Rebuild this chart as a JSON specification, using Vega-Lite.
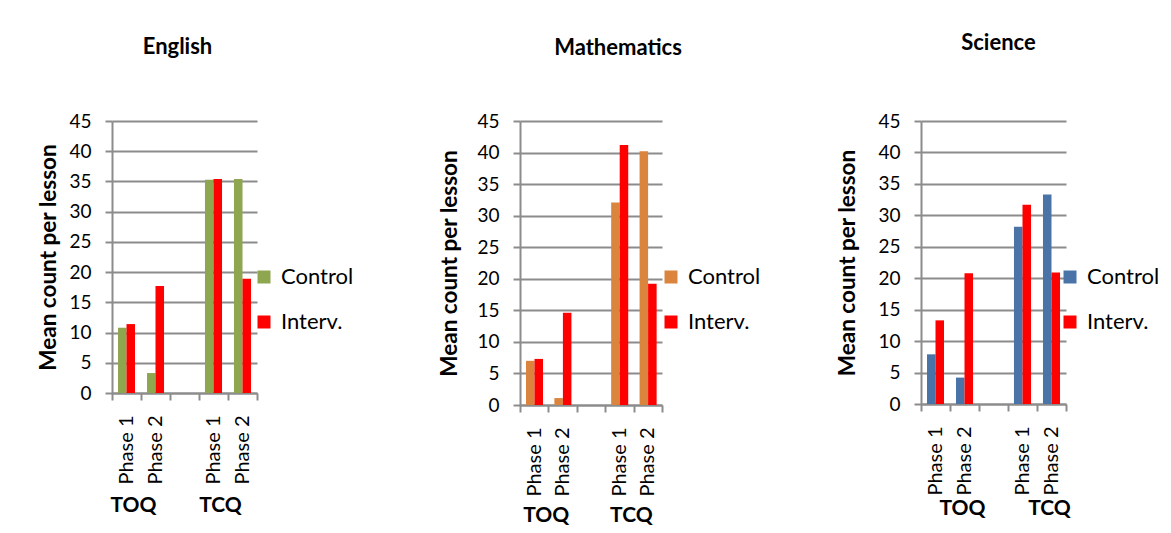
{
  "$schema": "https://vega.github.io/schema/vega-lite/v6.json",
  "padding": {"left": 37, "top": 32, "right": 0, "bottom": 0},
  "background": "white",
  "datasets": {
    "counts": [
      {"subject": "English", "slot": "TOQ Phase 1", "series": "Control", "value": 10.8},
      {"subject": "English", "slot": "TOQ Phase 1", "series": "Interv.", "value": 11.4},
      {"subject": "English", "slot": "TOQ Phase 2", "series": "Control", "value": 3.3},
      {"subject": "English", "slot": "TOQ Phase 2", "series": "Interv.", "value": 17.7},
      {"subject": "English", "slot": "TCQ Phase 1", "series": "Control", "value": 35.3},
      {"subject": "English", "slot": "TCQ Phase 1", "series": "Interv.", "value": 35.4},
      {"subject": "English", "slot": "TCQ Phase 2", "series": "Control", "value": 35.4},
      {"subject": "English", "slot": "TCQ Phase 2", "series": "Interv.", "value": 18.9},
      {"subject": "Mathematics", "slot": "TOQ Phase 1", "series": "Control", "value": 7.0},
      {"subject": "Mathematics", "slot": "TOQ Phase 1", "series": "Interv.", "value": 7.3},
      {"subject": "Mathematics", "slot": "TOQ Phase 2", "series": "Control", "value": 1.1},
      {"subject": "Mathematics", "slot": "TOQ Phase 2", "series": "Interv.", "value": 14.6},
      {"subject": "Mathematics", "slot": "TCQ Phase 1", "series": "Control", "value": 32.1},
      {"subject": "Mathematics", "slot": "TCQ Phase 1", "series": "Interv.", "value": 41.2},
      {"subject": "Mathematics", "slot": "TCQ Phase 2", "series": "Control", "value": 40.2},
      {"subject": "Mathematics", "slot": "TCQ Phase 2", "series": "Interv.", "value": 19.2},
      {"subject": "Science", "slot": "TOQ Phase 1", "series": "Control", "value": 7.9},
      {"subject": "Science", "slot": "TOQ Phase 1", "series": "Interv.", "value": 13.3},
      {"subject": "Science", "slot": "TOQ Phase 2", "series": "Control", "value": 4.2},
      {"subject": "Science", "slot": "TOQ Phase 2", "series": "Interv.", "value": 20.8},
      {"subject": "Science", "slot": "TCQ Phase 1", "series": "Control", "value": 28.2},
      {"subject": "Science", "slot": "TCQ Phase 1", "series": "Interv.", "value": 31.7},
      {"subject": "Science", "slot": "TCQ Phase 2", "series": "Control", "value": 33.3},
      {"subject": "Science", "slot": "TCQ Phase 2", "series": "Interv.", "value": 20.9}
    ]
  },
  "spacing": 75,
  "hconcat": [
    {
      "title": {"text": "English", "offset": 53, "dx": -7},
      "width": 145,
      "height": 272,
      "data": {"name": "counts"},
      "transform": [{"filter": "datum.subject == 'English'"}],
      "encoding": {
        "xOffset": {"field": "series", "scale": {"domain": ["Control", "Interv."], "paddingOuter": 0.7, "paddingInner": 0}},
        "y": {"field": "value", "type": "quantitative", "scale": {"domain": [0, 45]},
              "axis": {"values": [0, 5, 10, 15, 20, 25, 30, 35, 40, 45], "title": "Mean count per lesson", "titlePadding": 8}},
        "color": {"field": "series", "type": "nominal",
                  "scale": {"domain": ["Control", "Interv."], "range": ["#8DA64F", "#FF0000"]},
                  "legend": {"orient": "none", "legendX": 132, "legendY": 136, "padding": 9}}
      },
      "layer": [
        {
          "transform": [{"filter": "datum.series == 'Control'"}],
          "mark": "bar",
          "encoding": {
            "x": {"field": "slot", "type": "nominal",
                  "scale": {"domain": ["TOQ Phase 1", "TOQ Phase 2", " ", "TCQ Phase 1", "TCQ Phase 2"], "paddingInner": 0, "paddingOuter": 0},
                  "axis": {"title": null, "tickBand": "extent",
                           "labelExpr": "isString(datum.value) && datum.value != ' ' ? substring(datum.value, 4) : ''"}}
          }
        },
        {
          "transform": [{"filter": "datum.series == 'Interv.'"}],
          "mark": "bar",
          "encoding": {
            "x": {"field": "slot", "type": "nominal",
                  "scale": {"domain": ["TOQ Phase 1", "TOQ Phase 2", " ", "TCQ Phase 1", "TCQ Phase 2"], "paddingInner": 0, "paddingOuter": 0},
                  "axis": {"orient": "bottom", "title": null, "domain": false, "ticks": false, "grid": false,
                           "labelAngle": 0, "labelAlign": "center", "labelBaseline": "top", "labelPadding": 101, "labelOffset": 7,
                           "labelFontWeight": "bold", "labelFontSize": 21, "labelOverlap": false,
                           "labelExpr": "datum.value == 'TOQ Phase 1' ? 'TOQ' : datum.value == 'TCQ Phase 1' ? 'TCQ' : ''"}}
          }
        }
      ],
      "resolve": {"axis": {"x": "independent"}}
    },
    {
      "title": {"text": "Mathematics", "offset": 52, "dx": 27},
      "width": 142,
      "height": 284,
      "data": {"name": "counts"},
      "transform": [{"filter": "datum.subject == 'Mathematics'"}],
      "encoding": {
        "xOffset": {"field": "series", "scale": {"domain": ["Control", "Interv."], "paddingOuter": 0.7, "paddingInner": 0}},
        "y": {"field": "value", "type": "quantitative", "scale": {"domain": [0, 45]},
              "axis": {"values": [0, 5, 10, 15, 20, 25, 30, 35, 40, 45], "title": "Mean count per lesson", "titlePadding": 15}},
        "color": {"field": "series", "type": "nominal",
                  "scale": {"domain": ["Control", "Interv."], "range": ["#DB843D", "#FF0000"]},
                  "legend": {"orient": "none", "legendX": 140, "legendY": 145}}
      },
      "layer": [
        {
          "transform": [{"filter": "datum.series == 'Control'"}],
          "mark": "bar",
          "encoding": {
            "x": {"field": "slot", "type": "nominal",
                  "scale": {"domain": ["TOQ Phase 1", "TOQ Phase 2", " ", "TCQ Phase 1", "TCQ Phase 2"], "paddingInner": 0, "paddingOuter": 0},
                  "axis": {"title": null, "tickBand": "extent",
                           "labelExpr": "isString(datum.value) && datum.value != ' ' ? substring(datum.value, 4) : ''"}}
          }
        },
        {
          "transform": [{"filter": "datum.series == 'Interv.'"}],
          "mark": "bar",
          "encoding": {
            "x": {"field": "slot", "type": "nominal",
                  "scale": {"domain": ["TOQ Phase 1", "TOQ Phase 2", " ", "TCQ Phase 1", "TCQ Phase 2"], "paddingInner": 0, "paddingOuter": 0},
                  "axis": {"orient": "bottom", "title": null, "domain": false, "ticks": false, "grid": false,
                           "labelAngle": 0, "labelAlign": "center", "labelBaseline": "top", "labelPadding": 99, "labelOffset": 12,
                           "labelFontWeight": "bold", "labelFontSize": 21, "labelOverlap": false,
                           "labelExpr": "datum.value == 'TOQ Phase 1' ? 'TOQ' : datum.value == 'TCQ Phase 1' ? 'TCQ' : ''"}}
          }
        }
      ],
      "resolve": {"axis": {"x": "independent"}}
    },
    {
      "title": {"text": "Science", "offset": 57, "dx": 5},
      "width": 145,
      "height": 283,
      "data": {"name": "counts"},
      "transform": [{"filter": "datum.subject == 'Science'"}],
      "encoding": {
        "xOffset": {"field": "series", "scale": {"domain": ["Control", "Interv."], "paddingOuter": 0.7, "paddingInner": 0}},
        "y": {"field": "value", "type": "quantitative", "scale": {"domain": [0, 45]},
              "axis": {"values": [0, 5, 10, 15, 20, 25, 30, 35, 40, 45], "title": "Mean count per lesson", "titlePadding": 18}},
        "color": {"field": "series", "type": "nominal",
                  "scale": {"domain": ["Control", "Interv."], "range": ["#4A74A8", "#FF0000"]},
                  "legend": {"orient": "none", "legendX": 138, "legendY": 145}}
      },
      "layer": [
        {
          "transform": [{"filter": "datum.series == 'Control'"}],
          "mark": "bar",
          "encoding": {
            "x": {"field": "slot", "type": "nominal",
                  "scale": {"domain": ["TOQ Phase 1", "TOQ Phase 2", " ", "TCQ Phase 1", "TCQ Phase 2"], "paddingInner": 0, "paddingOuter": 0},
                  "axis": {"title": null, "tickBand": "extent",
                           "labelExpr": "isString(datum.value) && datum.value != ' ' ? substring(datum.value, 4) : ''"}}
          }
        },
        {
          "transform": [{"filter": "datum.series == 'Interv.'"}],
          "mark": "bar",
          "encoding": {
            "x": {"field": "slot", "type": "nominal",
                  "scale": {"domain": ["TOQ Phase 1", "TOQ Phase 2", " ", "TCQ Phase 1", "TCQ Phase 2"], "paddingInner": 0, "paddingOuter": 0},
                  "axis": {"orient": "bottom", "title": null, "domain": false, "ticks": false, "grid": false,
                           "labelAngle": 0, "labelAlign": "center", "labelBaseline": "top", "labelPadding": 93, "labelOffset": 27,
                           "labelFontWeight": "bold", "labelFontSize": 21, "labelOverlap": false,
                           "labelExpr": "datum.value == 'TOQ Phase 1' ? 'TOQ' : datum.value == 'TCQ Phase 1' ? 'TCQ' : ''"}}
          }
        }
      ],
      "resolve": {"axis": {"x": "independent"}}
    }
  ],
  "resolve": {"scale": {"color": "independent"}, "legend": {"color": "independent"}},
  "config": {
    "font": "Lato",
    "view": {"stroke": null},
    "bar": {"strokeWidth": 0},
    "title": {"font": "Lato", "fontSize": 22, "fontWeight": "bold", "color": "black", "anchor": "middle", "frame": "group"},
    "axis": {
      "labelFont": "Lato", "labelColor": "black", "labelFontSize": 19,
      "titleFont": "Lato", "titleColor": "black", "titleFontSize": 22.5, "titleFontWeight": "bold",
      "domainColor": "#8C8C8C", "domainWidth": 2,
      "tickColor": "#8C8C8C", "tickWidth": 2, "tickSize": 7,
      "gridColor": "#8C8C8C", "gridWidth": 2
    },
    "axisY": {"grid": true, "labelPadding": 14},
    "axisX": {"grid": false, "labelAngle": -90, "labelAlign": "right", "labelBaseline": "middle", "labelPadding": 15, "labelFontSize": 20},
    "legend": {
      "title": null, "symbolType": "square", "symbolSize": 169, "symbolStrokeWidth": 0,
      "labelFont": "Lato", "labelFontSize": 22, "labelColor": "black", "labelOffset": 6,
      "rowPadding": 23
    }
  }
}
